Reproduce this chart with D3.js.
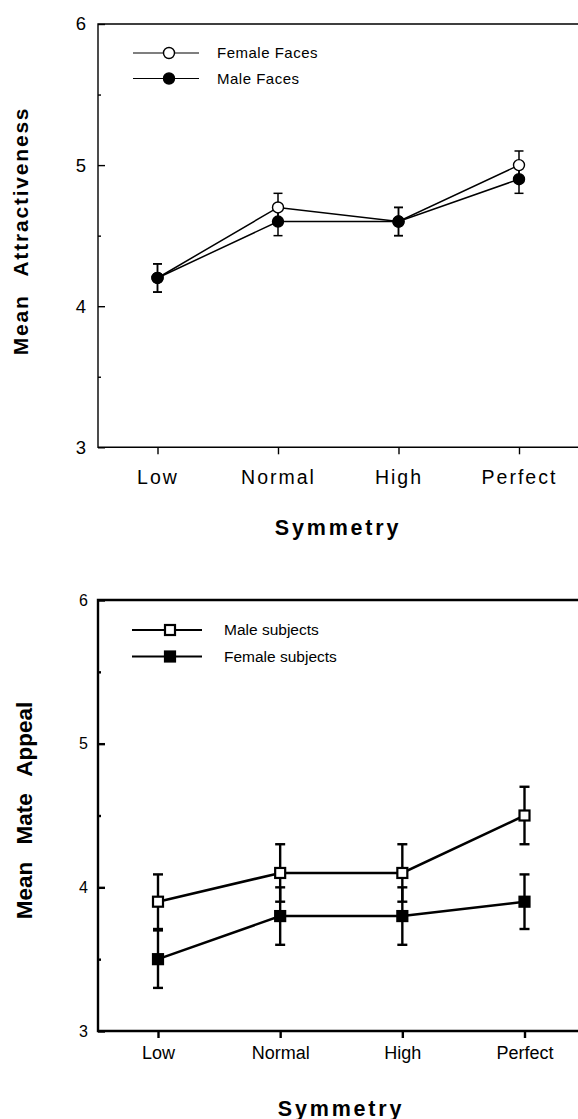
<!DOCTYPE html>
<html>
<head>
<meta charset="utf-8">
<script src="https://cdn.jsdelivr.net/npm/d3@7"></script>
<style>
  html, body { margin: 0; padding: 0; background: #fff; }
  svg { display: block; font-family: "Liberation Sans", Arial, Helvetica, sans-serif; }
</style>
</head>
<body>
<svg id="chart" width="578" height="1119"></svg>
<script>
// ---------- data ----------
const categories = ["Low", "Normal", "High", "Perfect"];
const yTicks = [3, 4, 5, 6];
const yMinorTicks = [3.5, 4.5, 5.5];

// Panel 1: Mean Attractiveness
const femaleFaces = [4.2, 4.7, 4.6, 5.0];
const femaleFacesErr = [0.1, 0.1, 0.1, 0.1];
const maleFaces = [4.2, 4.6, 4.6, 4.9];
const maleFacesErr = [0.1, 0.1, 0.1, 0.1];

// Panel 2: Mean Mate Appeal
const maleSubjects = [3.9, 4.1, 4.1, 4.5];
const maleSubjectsErr = [0.19, 0.2, 0.2, 0.2];
const femaleSubjects = [3.5, 3.8, 3.8, 3.9];
const femaleSubjectsErr = [0.2, 0.2, 0.2, 0.19];

const svg = d3.select("#chart");

function panel(cfg) {
  const g = svg.append("g");
  const x = d3.scalePoint().domain(categories).range(cfg.xRange);
  const y = d3.scaleLinear().domain([3, 6]).range(cfg.yRange);
  const left = cfg.left, right = 578;
  const top = y(6), bottom = y(3);

  // frame lines
  g.append("path")
    .attr("d", `M${right},${top}H${left}V${bottom}H${right}`)
    .attr("fill", "none").attr("stroke", "#000").attr("stroke-width", cfg.axisW);

  // y axis major ticks
  const ya = g.append("g").attr("transform", `translate(${left},0)`)
    .call(d3.axisLeft(y).tickValues(yTicks).tickSize(-7).tickPadding(cfg.yPad).tickFormat(d3.format("d")));
  ya.attr("font-size", null).attr("font-family", null);
  ya.select(".domain").remove();
  ya.selectAll("line").attr("stroke-width", cfg.axisW);
  ya.selectAll("text").attr("font-size", cfg.yFont).attr("fill", "#000");
  // minor ticks
  const ym = g.append("g").attr("transform", `translate(${left},0)`)
    .call(d3.axisLeft(y).tickValues(yMinorTicks).tickSize(-3).tickFormat(""));
  ym.select(".domain").remove();
  ym.selectAll("line").attr("stroke-width", cfg.axisW);

  // x axis
  const xa = g.append("g").attr("transform", `translate(0,${bottom})`)
    .call(d3.axisBottom(x).tickSize(7).tickSizeOuter(0));
  xa.attr("font-size", null).attr("font-family", null);
  xa.select(".domain").remove();
  xa.selectAll("line").attr("stroke-width", cfg.axisW);
  xa.selectAll("text").attr("font-size", cfg.xFont).attr("fill", "#000")
    .attr("y", cfg.xLabelOff).attr("dy", 0)
    .style("letter-spacing", cfg.xLS + "px");

  // x title
  g.append("text").attr("x", cfg.xTitleX).attr("y", cfg.xTitleY)
    .attr("text-anchor", "middle").attr("font-size", 21.5).attr("font-weight", "bold")
    .style("letter-spacing", "2.8px").text("Symmetry");

  // y title
  g.append("text")
    .attr("transform", `translate(${cfg.yTitleX},${cfg.yTitleY}) rotate(-90)`)
    .attr("text-anchor", "middle").attr("font-size", cfg.yTitleFont).attr("font-weight", "bold")
    .style("letter-spacing", cfg.yTitleLS + "px").style("word-spacing", cfg.yTitleWS + "px")
    .text(cfg.yTitle);

  // series
  cfg.series.forEach(s => {
    const pts = categories.map((c, i) => ({ c, v: s.values[i], e: s.err[i] }));
    g.append("path").datum(pts)
      .attr("d", d3.line().x(d => x(d.c)).y(d => y(d.v)))
      .attr("fill", "none").attr("stroke", "#000").attr("stroke-width", cfg.lineW);
    const eb = g.append("g").attr("stroke", "#000").attr("stroke-width", cfg.errW);
    pts.forEach(d => {
      const cx = x(d.c);
      eb.append("line").attr("x1", cx).attr("x2", cx).attr("y1", y(d.v + d.e)).attr("y2", y(d.v - d.e));
      eb.append("line").attr("x1", cx - cfg.cap).attr("x2", cx + cfg.cap).attr("y1", y(d.v + d.e)).attr("y2", y(d.v + d.e));
      eb.append("line").attr("x1", cx - cfg.cap).attr("x2", cx + cfg.cap).attr("y1", y(d.v - d.e)).attr("y2", y(d.v - d.e));
    });
  });
  cfg.series.forEach(s => {
    categories.forEach((c, i) => drawMarker(g, cfg.marker, s.filled, x(c), y(s.values[i]), cfg.markW));
  });

  // legend
  cfg.series.forEach((s, i) => {
    const ly = cfg.legendY[i];
    g.append("line").attr("x1", cfg.legendX[0]).attr("x2", cfg.legendX[1])
      .attr("y1", ly).attr("y2", ly).attr("stroke", "#000").attr("stroke-width", cfg.legendLineW);
    drawMarker(g, cfg.marker, s.filled, (cfg.legendX[0] + cfg.legendX[1]) / 2 + 3, ly, cfg.markW);
    g.append("text").attr("x", cfg.legendTextX).attr("y", ly + 5)
      .attr("font-size", cfg.legendFont).style("letter-spacing", cfg.legendLS + "px").text(s.name);
  });
}

function drawMarker(g, type, filled, cx, cy, sw) {
  if (type === "circle") {
    g.append("circle").attr("cx", cx).attr("cy", cy).attr("r", 5.5)
      .attr("fill", filled ? "#000" : "#fff").attr("stroke", "#000").attr("stroke-width", sw);
  } else {
    const s = 10;
    g.append("rect").attr("x", cx - s / 2).attr("y", cy - s / 2).attr("width", s).attr("height", s)
      .attr("fill", filled ? "#000" : "#fff").attr("stroke", "#000").attr("stroke-width", sw);
  }
}

panel({
  left: 98, xRange: [157.5, 519], yRange: [447.3, 24],
  axisW: 1.4, lineW: 1.5, errW: 1.5, markW: 1.4, cap: 4.5,
  yFont: 18.5, yPad: 12, xFont: 19.5, xLS: 2, xLabelOff: 37,
  xTitleX: 338, xTitleY: 535,
  yTitle: "Mean Attractiveness", yTitleX: 28, yTitleY: 231, yTitleFont: 21, yTitleLS: 1.8, yTitleWS: 11,
  marker: "circle",
  legendX: [133, 199], legendY: [53, 78.5], legendTextX: 217, legendFont: 15, legendLS: 0.5, legendLineW: 1.1,
  series: [
    { name: "Female Faces", values: femaleFaces, err: femaleFacesErr, filled: false },
    { name: "Male Faces", values: maleFaces, err: maleFacesErr, filled: true }
  ]
});

panel({
  left: 98, xRange: [158, 524.5], yRange: [1031, 600],
  axisW: 2.4, lineW: 2.5, errW: 2.4, markW: 2.2, cap: 5,
  yFont: 16, yPad: 10, xFont: 18, xLS: 0, xLabelOff: 28,
  xTitleX: 341, xTitleY: 1115.5,
  yTitle: "Mean Mate Appeal", yTitleX: 32, yTitleY: 810.5, yTitleFont: 22.5, yTitleLS: 0, yTitleWS: 11,
  marker: "square",
  legendX: [132, 202], legendY: [630, 656.5], legendTextX: 224, legendFont: 15.5, legendLS: 0, legendLineW: 2.2,
  series: [
    { name: "Male subjects", values: maleSubjects, err: maleSubjectsErr, filled: false },
    { name: "Female subjects", values: femaleSubjects, err: femaleSubjectsErr, filled: true }
  ]
});
</script>
</body>
</html>
